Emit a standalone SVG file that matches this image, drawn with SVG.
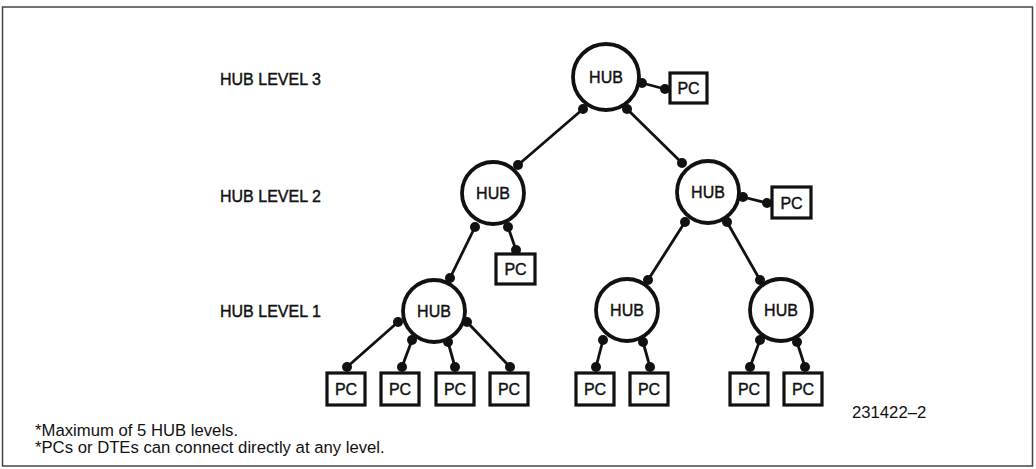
<svg xmlns="http://www.w3.org/2000/svg" width="1036" height="469" viewBox="0 0 1036 469">
<style>
text{font-family:"Liberation Sans",Arial,sans-serif;fill:#111}
.hub circle{fill:#fff;stroke:#111;stroke-width:3.8}
.hub text{font-size:16px;text-anchor:middle;stroke:#111;stroke-width:0.4}
.pc rect{fill:#fff;stroke:#111;stroke-width:3.2}
.pc text{font-size:16px;text-anchor:middle;stroke:#111;stroke-width:0.4}
.lbl{font-size:16px;stroke:#111;stroke-width:0.4}
.note{font-size:16.7px}
#connectors line{stroke:#111;stroke-width:2.8}
#connectors circle{fill:#111}
</style>
<rect width="1036" height="469" fill="#fff"/>
<rect x="2.5" y="7" width="1030" height="459" fill="none" stroke="#444" stroke-width="1.5"/>

<g id="labels">
<text class="lbl" x="220" y="85">HUB LEVEL 3</text>
<text class="lbl" x="220" y="202">HUB LEVEL 2</text>
<text class="lbl" x="220" y="317">HUB LEVEL 1</text>
</g>

<g id="connectors">
<line x1="642" y1="83" x2="665" y2="89"/><circle cx="642" cy="83" r="5"/><circle cx="665" cy="89" r="5"/>
<line x1="583" y1="109" x2="518" y2="165"/><circle cx="583" cy="109" r="5"/><circle cx="518" cy="165" r="5"/>
<line x1="627" y1="109" x2="682" y2="163"/><circle cx="627" cy="109" r="5"/><circle cx="682" cy="163" r="5"/>
<line x1="508" y1="227" x2="516" y2="250"/><circle cx="508" cy="227" r="5"/><circle cx="516" cy="250" r="5"/>
<line x1="475" y1="227" x2="450" y2="278"/><circle cx="475" cy="227" r="5"/><circle cx="450" cy="278" r="5"/>
<line x1="743" y1="197" x2="767" y2="203"/><circle cx="743" cy="197" r="5"/><circle cx="767" cy="203" r="5"/>
<line x1="685" y1="222" x2="648" y2="280"/><circle cx="685" cy="222" r="5"/><circle cx="648" cy="280" r="5"/>
<line x1="727" y1="222" x2="760" y2="280"/><circle cx="727" cy="222" r="5"/><circle cx="760" cy="280" r="5"/>
<line x1="398" y1="322" x2="347" y2="367"/><circle cx="398" cy="322" r="5"/><circle cx="347" cy="367" r="5"/>
<line x1="412" y1="340" x2="402" y2="367"/><circle cx="412" cy="340" r="5"/><circle cx="402" cy="367" r="5"/>
<line x1="448" y1="342" x2="455" y2="367"/><circle cx="448" cy="342" r="5"/><circle cx="455" cy="367" r="5"/>
<line x1="467" y1="322" x2="510" y2="367"/><circle cx="467" cy="322" r="5"/><circle cx="510" cy="367" r="5"/>
<line x1="603" y1="340" x2="596" y2="367"/><circle cx="603" cy="340" r="5"/><circle cx="596" cy="367" r="5"/>
<line x1="643" y1="342" x2="650" y2="367"/><circle cx="643" cy="342" r="5"/><circle cx="650" cy="367" r="5"/>
<line x1="760" y1="340" x2="750" y2="367"/><circle cx="760" cy="340" r="5"/><circle cx="750" cy="367" r="5"/>
<line x1="797" y1="342" x2="805" y2="367"/><circle cx="797" cy="342" r="5"/><circle cx="805" cy="367" r="5"/>
</g>

<g id="hub3" class="hub"><circle cx="606" cy="77" r="33"/><text x="606" y="83">HUB</text></g>
<g id="hub2L" class="hub"><circle cx="493" cy="193" r="31"/><text x="493" y="199">HUB</text></g>
<g id="hub2R" class="hub"><circle cx="708" cy="192" r="31"/><text x="708" y="198">HUB</text></g>
<g id="hub1L" class="hub"><circle cx="434" cy="311" r="31"/><text x="434" y="317">HUB</text></g>
<g id="hub1M" class="hub"><circle cx="627" cy="310" r="31"/><text x="627" y="316">HUB</text></g>
<g id="hub1R" class="hub"><circle cx="781" cy="310" r="31"/><text x="781" y="316">HUB</text></g>

<g id="pc3" class="pc"><rect x="670" y="73" width="37" height="30"/><text x="688.5" y="94">PC</text></g>
<g id="pc2L" class="pc"><rect x="496" y="254" width="39" height="30"/><text x="515.5" y="275">PC</text></g>
<g id="pc2R" class="pc"><rect x="772" y="187" width="39" height="31"/><text x="791.5" y="208.5">PC</text></g>
<g id="pc1a" class="pc"><rect x="327" y="373" width="38" height="32"/><text x="346" y="395">PC</text></g>
<g id="pc1b" class="pc"><rect x="381" y="373" width="38" height="32"/><text x="400" y="395">PC</text></g>
<g id="pc1c" class="pc"><rect x="436" y="373" width="38" height="32"/><text x="455" y="395">PC</text></g>
<g id="pc1d" class="pc"><rect x="490" y="373" width="38" height="32"/><text x="509" y="395">PC</text></g>
<g id="pc1e" class="pc"><rect x="576" y="373" width="38" height="32"/><text x="595" y="395">PC</text></g>
<g id="pc1f" class="pc"><rect x="630" y="373" width="38" height="32"/><text x="649" y="395">PC</text></g>
<g id="pc1g" class="pc"><rect x="730" y="373" width="38" height="32"/><text x="749" y="395">PC</text></g>
<g id="pc1h" class="pc"><rect x="784" y="373" width="38" height="32"/><text x="803" y="395">PC</text></g>

<g id="notes">
<text class="note" x="35" y="436">*Maximum of 5 HUB levels.</text>
<text class="note" x="35" y="453">*PCs or DTEs can connect directly at any level.</text>
<text class="note" x="852" y="418" font-size="16.5">231422–2</text>
</g>
</svg>
